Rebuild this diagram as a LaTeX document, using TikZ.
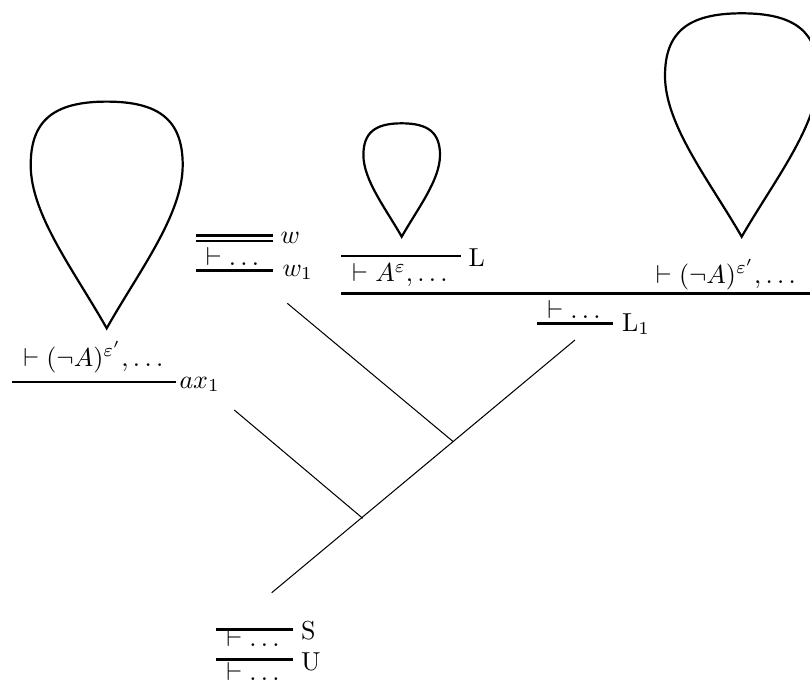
\documentclass[tikz,border=0pt]{standalone}
\tikzset{
  dropline/.style={line width=0.85pt, line join=miter},
  infline/.style={line width=1pt},
  dblrule/.style={line width=0.85pt},
  treeline/.style={line width=0.4pt},
  seq/.style={anchor=base, inner sep=0pt},
  rulelabel/.style={anchor=base west, inner sep=0pt},
}
\newcommand\teardrop[5]{%
  \coordinate (#1) at (#2,#3);
  \begin{scope}[shift={(#1)}, xscale=#4, yscale=#5]
    \draw[dropline] (0,-1) .. controls (0.7,-1) and (1,-0.916) .. (1,-0.72)
      .. controls (1,-0.5) and (0.42,-0.25) .. (0,0)
      .. controls (-0.42,-0.25) and (-1,-0.5) .. (-1,-0.72)
      .. controls (-1,-0.916) and (-0.7,-1) .. (0,-1) -- cycle;
  \end{scope}}
\begin{document}
\begin{tikzpicture}[x=0.385pt, y=-0.385pt]
\useasboundingbox (0,0) rectangle (810,688);
% drops
\teardrop{tl}{106.7}{328.3}{76}{226.7}
\teardrop{tm}{401.7}{236.7}{38.3}{113.4}
\teardrop{tr}{741.7}{236.7}{76.7}{223.4}
% left axiom
\node[seq] (sl) at (93.3,366) {$\vdash (\neg A)^{\varepsilon'}, \ldots$};
\coordinate (ll0) at (12.3,382); \coordinate (ll1) at (176,382);
\draw[infline] (ll0) -- (ll1);
\node[rulelabel] (lax) at (179,388) {$ax_1$};
% w group
\coordinate (wa0) at (196,235.5); \coordinate (wa1) at (272.7,235.5);
\coordinate (wb0) at (196,241); \coordinate (wb1) at (272.7,241);
\draw[dblrule] (wa0) -- (wa1);
\draw[dblrule] (wb0) -- (wb1);
\node[rulelabel] (lw) at (280,243) {$w$};
\node[seq] (sw) at (232.5,265) {$\vdash \ldots$};
\coordinate (wc0) at (196,270.7); \coordinate (wc1) at (272.7,270.7);
\draw[infline] (wc0) -- (wc1);
\node[rulelabel] (lw1) at (282,276) {$w_1$};
% L group
\coordinate (L0) at (341,256); \coordinate (L1) at (460.7,256);
\draw[infline] (L0) -- (L1);
\node[rulelabel] (lL) at (468,266) {L};
\node[seq] (sA) at (400,281.7) {$\vdash A^{\varepsilon}, \ldots$};
\node[seq] (sr) at (726,283.3) {$\vdash (\neg A)^{\varepsilon'}, \ldots$};
\coordinate (M0) at (341,293.3); \coordinate (M1) at (810,293.3);
\draw[infline] (M0) -- (M1);
\node[seq] (sL1) at (574,318.3) {$\vdash \ldots$};
\coordinate (N0) at (537,323.3); \coordinate (N1) at (612.7,323.3);
\draw[infline] (N0) -- (N1);
\node[rulelabel] (lL1) at (621.7,331) {L$_1$};
% tree lines
\coordinate (a1) at (287.3,303.3); \coordinate (j1) at (453.3,441.7);
\coordinate (r1) at (575,340);     \coordinate (r0) at (271.7,592.7);
\coordinate (a2) at (234.3,410);   \coordinate (j2) at (362.7,518.3);
\draw[treeline] (a1) -- (j1);
\draw[treeline] (r1) -- (r0);
\draw[treeline] (a2) -- (j2);
% bottom
\coordinate (S0) at (216,629.3); \coordinate (S1) at (292.7,629.3);
\draw[infline] (S0) -- (S1);
\node[rulelabel] (lS) at (300.7,639.3) {S};
\node[seq] (sS) at (253,646.7) {$\vdash \ldots$};
\coordinate (U0) at (216,659.3); \coordinate (U1) at (292.7,659.3);
\draw[infline] (U0) -- (U1);
\node[rulelabel] (lU) at (300.7,670) {U};
\node[seq] (sU) at (253,680) {$\vdash \ldots$};
\end{tikzpicture}
\end{document}
